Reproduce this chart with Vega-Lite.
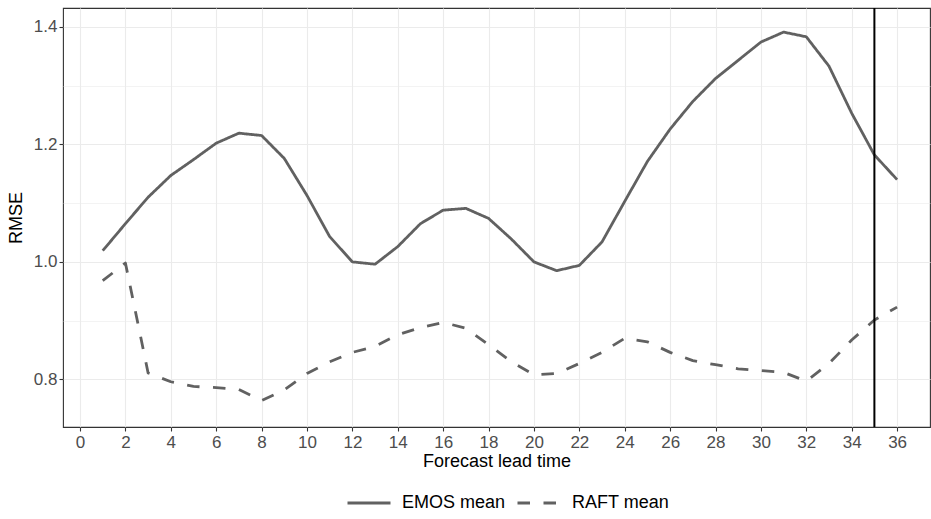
{
  "$schema": "https://vega.github.io/schema/vega-lite/v6.json",
  "width": 867,
  "height": 419,
  "autosize": {"type": "none"},
  "padding": {"left": 63, "top": 8, "right": 1, "bottom": 92},
  "background": "white",
  "config": {
    "font": "Liberation Sans",
    "view": {"stroke": "#333333", "strokeWidth": 1.1},
    "axis": {
      "labelColor": "#4D4D4D",
      "labelFontSize": 17,
      "titleFontSize": 18,
      "titleFontWeight": "normal",
      "titleColor": "#000000",
      "tickColor": "#333333",
      "tickWidth": 1.1,
      "tickSize": 4,
      "domain": false,
      "gridColor": "#EBEBEB"
    },
    "legend": {
      "labelFontSize": 18,
      "labelColor": "#000000"
    }
  },
  "datasets": {
    "rmse": [
      {"lead": 1, "rmse": 1.019, "model": "EMOS mean"},
      {"lead": 2, "rmse": 1.065, "model": "EMOS mean"},
      {"lead": 3, "rmse": 1.110, "model": "EMOS mean"},
      {"lead": 4, "rmse": 1.147, "model": "EMOS mean"},
      {"lead": 5, "rmse": 1.174, "model": "EMOS mean"},
      {"lead": 6, "rmse": 1.202, "model": "EMOS mean"},
      {"lead": 7, "rmse": 1.219, "model": "EMOS mean"},
      {"lead": 8, "rmse": 1.215, "model": "EMOS mean"},
      {"lead": 9, "rmse": 1.176, "model": "EMOS mean"},
      {"lead": 10, "rmse": 1.113, "model": "EMOS mean"},
      {"lead": 11, "rmse": 1.043, "model": "EMOS mean"},
      {"lead": 12, "rmse": 1.000, "model": "EMOS mean"},
      {"lead": 13, "rmse": 0.996, "model": "EMOS mean"},
      {"lead": 14, "rmse": 1.026, "model": "EMOS mean"},
      {"lead": 15, "rmse": 1.065, "model": "EMOS mean"},
      {"lead": 16, "rmse": 1.088, "model": "EMOS mean"},
      {"lead": 17, "rmse": 1.091, "model": "EMOS mean"},
      {"lead": 18, "rmse": 1.074, "model": "EMOS mean"},
      {"lead": 19, "rmse": 1.039, "model": "EMOS mean"},
      {"lead": 20, "rmse": 1.000, "model": "EMOS mean"},
      {"lead": 21, "rmse": 0.985, "model": "EMOS mean"},
      {"lead": 22, "rmse": 0.994, "model": "EMOS mean"},
      {"lead": 23, "rmse": 1.034, "model": "EMOS mean"},
      {"lead": 24, "rmse": 1.103, "model": "EMOS mean"},
      {"lead": 25, "rmse": 1.171, "model": "EMOS mean"},
      {"lead": 26, "rmse": 1.226, "model": "EMOS mean"},
      {"lead": 27, "rmse": 1.273, "model": "EMOS mean"},
      {"lead": 28, "rmse": 1.312, "model": "EMOS mean"},
      {"lead": 29, "rmse": 1.343, "model": "EMOS mean"},
      {"lead": 30, "rmse": 1.374, "model": "EMOS mean"},
      {"lead": 31, "rmse": 1.391, "model": "EMOS mean"},
      {"lead": 32, "rmse": 1.383, "model": "EMOS mean"},
      {"lead": 33, "rmse": 1.333, "model": "EMOS mean"},
      {"lead": 34, "rmse": 1.253, "model": "EMOS mean"},
      {"lead": 35, "rmse": 1.182, "model": "EMOS mean"},
      {"lead": 36, "rmse": 1.140, "model": "EMOS mean"},
      {"lead": 1, "rmse": 0.968, "model": "RAFT mean"},
      {"lead": 2, "rmse": 0.998, "model": "RAFT mean"},
      {"lead": 3, "rmse": 0.811, "model": "RAFT mean"},
      {"lead": 4, "rmse": 0.796, "model": "RAFT mean"},
      {"lead": 5, "rmse": 0.788, "model": "RAFT mean"},
      {"lead": 6, "rmse": 0.786, "model": "RAFT mean"},
      {"lead": 7, "rmse": 0.783, "model": "RAFT mean"},
      {"lead": 8, "rmse": 0.764, "model": "RAFT mean"},
      {"lead": 9, "rmse": 0.782, "model": "RAFT mean"},
      {"lead": 10, "rmse": 0.810, "model": "RAFT mean"},
      {"lead": 11, "rmse": 0.830, "model": "RAFT mean"},
      {"lead": 12, "rmse": 0.846, "model": "RAFT mean"},
      {"lead": 13, "rmse": 0.856, "model": "RAFT mean"},
      {"lead": 14, "rmse": 0.876, "model": "RAFT mean"},
      {"lead": 15, "rmse": 0.888, "model": "RAFT mean"},
      {"lead": 16, "rmse": 0.897, "model": "RAFT mean"},
      {"lead": 17, "rmse": 0.887, "model": "RAFT mean"},
      {"lead": 18, "rmse": 0.859, "model": "RAFT mean"},
      {"lead": 19, "rmse": 0.830, "model": "RAFT mean"},
      {"lead": 20, "rmse": 0.808, "model": "RAFT mean"},
      {"lead": 21, "rmse": 0.810, "model": "RAFT mean"},
      {"lead": 22, "rmse": 0.827, "model": "RAFT mean"},
      {"lead": 23, "rmse": 0.846, "model": "RAFT mean"},
      {"lead": 24, "rmse": 0.870, "model": "RAFT mean"},
      {"lead": 25, "rmse": 0.864, "model": "RAFT mean"},
      {"lead": 26, "rmse": 0.846, "model": "RAFT mean"},
      {"lead": 27, "rmse": 0.832, "model": "RAFT mean"},
      {"lead": 28, "rmse": 0.825, "model": "RAFT mean"},
      {"lead": 29, "rmse": 0.818, "model": "RAFT mean"},
      {"lead": 30, "rmse": 0.815, "model": "RAFT mean"},
      {"lead": 31, "rmse": 0.812, "model": "RAFT mean"},
      {"lead": 32, "rmse": 0.797, "model": "RAFT mean"},
      {"lead": 33, "rmse": 0.827, "model": "RAFT mean"},
      {"lead": 34, "rmse": 0.867, "model": "RAFT mean"},
      {"lead": 35, "rmse": 0.901, "model": "RAFT mean"},
      {"lead": 36, "rmse": 0.923, "model": "RAFT mean"}
    ],
    "vline": [{"lead": 35}]
  },
  "layer": [
    {
      "data": {"name": "rmse"},
      "mark": {"type": "line", "strokeWidth": 2.8, "color": "#616161", "strokeCap": "butt", "strokeJoin": "round"},
      "encoding": {
        "x": {
          "field": "lead",
          "type": "quantitative",
          "title": "Forecast lead time",
          "scale": {"domain": [-0.75, 37.45], "nice": false, "zero": false},
          "axis": {
            "values": [0,1,2,3,4,5,6,7,8,9,10,11,12,13,14,15,16,17,18,19,20,21,22,23,24,25,26,27,28,29,30,31,32,33,34,35,36,37],
            "labelExpr": "datum.value % 2 === 0 ? datum.label : ''",
            "labelOverlap": false,
            "labelPadding": 3,
            "titlePadding": 2,
            "tickOpacity": {"condition": {"test": "datum.value % 2 === 0", "value": 1}, "value": 0},
            "gridWidth": {"condition": {"test": "datum.value % 2 === 0", "value": 1.1}, "value": 0.6}
          }
        },
        "y": {
          "field": "rmse",
          "type": "quantitative",
          "title": "RMSE",
          "scale": {"domain": [0.719, 1.432], "nice": false, "zero": false},
          "axis": {
            "values": [0.8, 0.9, 1.0, 1.1, 1.2, 1.3, 1.4],
            "labelExpr": "round(datum.value * 10) % 2 === 0 ? format(datum.value, '.1f') : ''",
            "labelOverlap": false,
            "labelPadding": 2,
            "titlePadding": 8,
            "tickOpacity": {"condition": {"test": "round(datum.value * 10) % 2 === 0", "value": 1}, "value": 0},
            "gridWidth": {"condition": {"test": "round(datum.value * 10) % 2 === 0", "value": 1.1}, "value": 0.6}
          }
        },
        "strokeDash": {
          "field": "model",
          "type": "nominal",
          "scale": {"domain": ["EMOS mean", "RAFT mean"], "range": [[1, 0], [12.5, 13.5]]},
          "legend": {
            "title": null,
            "orient": "none",
            "direction": "horizontal",
            "legendX": 283,
            "legendY": 472,
            "symbolType": "stroke",
            "symbolSize": 1849,
            "symbolStrokeWidth": 3,
            "symbolStrokeColor": "#616161",
            "labelOffset": 10,
            "columnPadding": 5
          }
        }
      }
    },
    {
      "data": {"name": "vline"},
      "mark": {"type": "rule", "color": "#000000", "strokeWidth": 2},
      "encoding": {
        "x": {"field": "lead", "type": "quantitative"}
      }
    }
  ]
}
